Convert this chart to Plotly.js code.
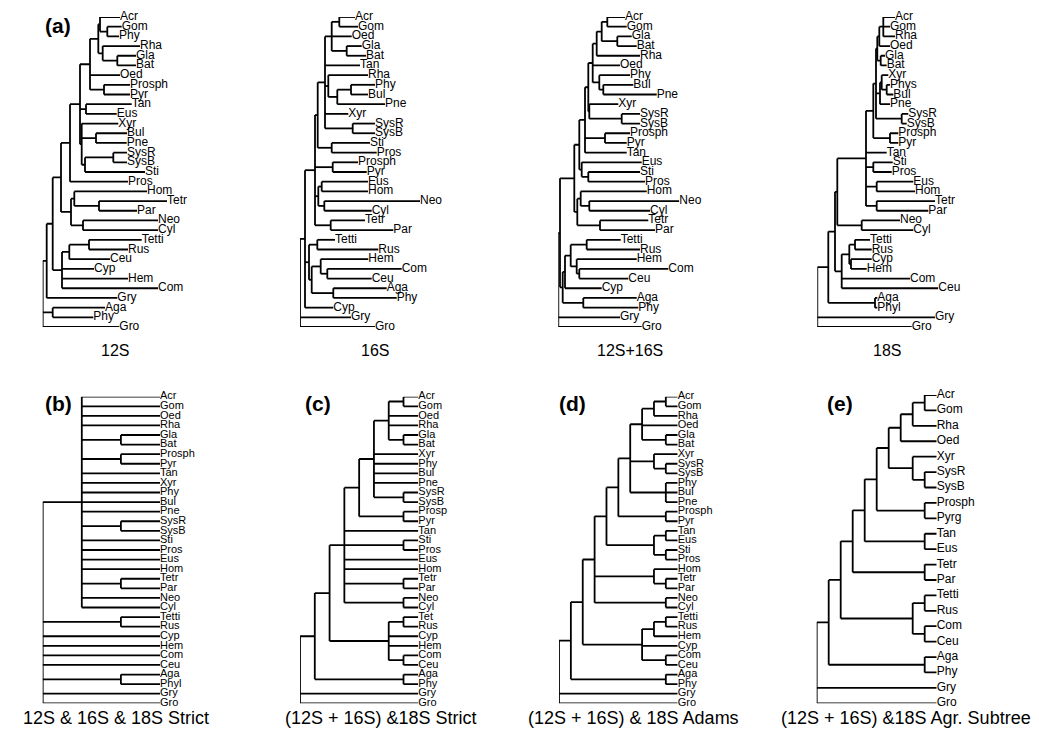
<!DOCTYPE html>
<html><head><meta charset="utf-8">
<script src="https://cdn.plot.ly/plotly-3.0.1.min.js"></script>
<style>html,body{margin:0;padding:0;background:#fff}#chart{width:1039px;height:735px}</style>
</head><body><div id="chart"></div>
<script>
// ---- DATA: trees in Newick (branch lengths for phylograms) ----
const tree12S = "(((((((((Acr:20,(Gom:14.4,Phy:11.7):7.3):1.7,(Rha:37.3,(Gla:18.7,Bat:18.7):14.6):4.4):8.3,Oed:30,(Prosph:26,Pyr:26):14):10,(Tan:45.7,Eus:30.7):6,(Xyr:36.6,(Bul:31,Pne:30.7):14.3,((SysR:13.7,SysB:13.7):28.3,Sti:60):3.3):1.7):10,Pros:58):9,((Hom:72.7,(Tetr:68,Par:38):24.7):3.3,(Neo:75,Cyl:75):12):10):8.3,(((Tetti:52.7,Rus:39):19.7,Ceu:40.7):7.3,Cyp:32,Hem:66,Com:96):9.3):6,Gry:70.6):4,(Aga:52.3,Phy:40.6):10,Gro:76.6);";
const tree16S = "(((((((Acr:15.7,Gom:18.7):7.6,Oed:20,(Gla:15,Bat:19.3):15):6.7,Tan:35,(Rha:39.7,((Phy:24,Bul:17):13.7,Pne:47.7):9):3.3,Xyr:23.3,(SysR:22.3,SysB:22.3):27.7):7.3,(Sti:38.3,Pros:45):14):2.7,(Prosph:25.3,Pyr:34):17.7,((Eus:46.3,Hom:46.3):3.4,(Neo:95.7,Cyl:47.4):6):3.3,(Tetr:34.3,Par:62.6):15.7):10,((Tetti:17.7,Rus:61):8.3,((Hem:47.6,(Com:74.4,Ceu:44.4):6.6):9,(Aga:53.4,Phy:63.4):21.6):2.7):4,Cyp:28.3):5,Gry:51,Gro:75);";
const tree12S16S = "((((((((((Acr:17.7,Gom:19.4):5.6,(Gla:14.4,Bat:19.4):15.6):5,Rha:43.3):4,Oed:27.3,(Phy:30.7,(Bul:30,Pne:53.4):4):6.6):4.4,(Xyr:29,(SysR:18.3,SysB:18.3):32.4):1):3.3,(Prosph:25,Pyr:21.7):20,Tan:41.7):5.7,(Eus:60,(Sti:51.7,Pros:56.7):6.6):2.4):5,((Hom:66,(Neo:90,Cyl:60.7):8.6):3.4,(Tetr:48.3,Par:55):22.7):3):14.3,((((Tetti:34,Rus:53.3):16,(Hem:60,(Com:89,Ceu:49):2.6):6):5.7,Cyp:36.7):2.3,(Aga:53.4,Phy:55):20.6):2.7):1.7,Gry:61.7,Gro:83.4);";
const tree18S = "((((((((((Acr:11.7,Gom:6.7,Rha:11.7):4,Oed:10.7):2,(Gla:4.3,Bat:6):3.4):1.3,((Xyr:6.6,(Phys:3.3,Bul:6.6):5):1.7,Pne:10):4,(SysR:6.6,SysB:5):25.7):2.7,(Prosph:8.3,Pyr:8.3):16.7):7.3,Tan:20.7,(Sti:19.4,Pros:18.4):7.3,(Eus:36.6,Hom:38.3):10.7,(Tetr:58.3,Par:51.6):10.7):28.7,(Neo:38.3,Cyl:51.6):24.4):2.3,(((Tetti:15,Rus:16.7):5.7,(Cyp:20.7,Hem:15.7):1.7):7.6,Com:68.3,Ceu:96.6):6.7):6.7,(Aga:2.3,Phyl:2.3):46.7):11,Gry:117.7,Gro:94.4);";
const treeStrictAll = "((Acr,Gom,Oed,Rha,(Gla,Bat),(Prosph,Pyr),Tan,Xyr,Phy,Bul,Pne,(SysR,SysB),Sti,Pros,Eus,Hom,(Tetr,Par),Neo,Cyl),(Tetti,Rus),Cyp,Hem,Com,Ceu,(Aga,Phyl),Gry,Gro);";
const treeStrict = "((((((((Acr,Gom),Oed,Rha,(Gla,Bat)),Xyr,Phy,Bul,Pne,(SysR,SysB)),(Prosp,Pyr)),Tan,(Sti,Pros),Eus,Hom,(Tetr,Par),(Neo,Cyl)),((Tet,Rus),Cyp,Hem,(Com,Ceu))),(Aga,Phy)),Gry,Gro);";
const treeAdams = "((((((((((Acr,Gom),Rha),Oed,(Gla,Bat)),(Xyr,(SysR,SysB)),(Phy,Bul,Pne)),(Prosph,Pyr)),((Tan,Eus),(Sti,Pros))),(Hom,(Tetr,Par)),(Neo,Cyl)),(((Tetti,Rus),Hem),Cyp,(Com,Ceu))),(Aga,Phy)),Gry,Gro);";
const treeAgrSubtree = "((((((((((Acr,Gom),Rha),Oed),(Xyr,(SysR,SysB))),(Prosph,Pyrg)),(Tan,Eus)),(Tetr,Par)),((Tetti,Rus),(Com,Ceu))),(Aga,Phy)),Gry,Gro);";

const topTitles = ["12S", "16S", "12S+16S", "18S"];
const bottomTitles = ["12S & 16S & 18S Strict", "(12S + 16S) &18S Strict", "(12S + 16S) & 18S Adams", "(12S + 16S) &18S Agr. Subtree"];
const panelLetters = ["(a)", "(b)", "(c)", "(d)", "(e)"];

// ---- layout configuration (pixel placement of each panel) ----
const W = 1039, H = 735;
const FONT = "Liberation Sans, Arial, Helvetica, sans-serif";
const panels = [
  {tree: tree12S,        mode: "phylo", root: 42.7,  top: 17,    bottom: 327,   fs: 12},
  {tree: tree16S,        mode: "phylo", root: 300,   top: 17,    bottom: 327,   fs: 12},
  {tree: tree12S16S,     mode: "phylo", root: 558.3, top: 17,    bottom: 327,   fs: 12},
  {tree: tree18S,        mode: "phylo", root: 817.3, top: 17,    bottom: 327,   fs: 12},
  {tree: treeStrictAll,  mode: "clado", root: 42.7,  leaf: 160,   top: 396.7, bottom: 703.3, fs: 11},
  {tree: treeStrict,     mode: "clado", root: 300,   leaf: 418.3, top: 396.7, bottom: 703.3, fs: 11},
  {tree: treeAdams,      mode: "clado", root: 559,   leaf: 677.7, top: 396.7, bottom: 703.3, fs: 11},
  {tree: treeAgrSubtree, mode: "clado", root: 816.7, leaf: 936.7, top: 395,   bottom: 703.3, fs: 12}
];

function parseNewick(s) {
  let i = 0;
  function node() {
    const n = {children: [], name: "", len: 0};
    if (s[i] === "(") {
      i++;
      n.children.push(node());
      while (s[i] === ",") { i++; n.children.push(node()); }
      i++; // ')'
    }
    let name = "";
    while (i < s.length && !",():;".includes(s[i])) name += s[i++];
    n.name = name.trim();
    if (s[i] === ":") {
      i++;
      let num = "";
      while (i < s.length && !",();".includes(s[i])) num += s[i++];
      n.len = parseFloat(num);
    }
    return n;
  }
  return node();
}

function layoutTree(root, mode) {
  const leaves = [];
  function height(n) {
    n.h = n.children.length ? 1 + Math.max(...n.children.map(height)) : 0;
    return n.h;
  }
  height(root);
  function assign(n, depth) {
    n.x = mode === "phylo" ? depth : root.h - n.h;
    if (!n.children.length) { n.y = leaves.length; leaves.push(n); }
    else {
      n.children.forEach(c => assign(c, depth + (c.len || 0)));
      n.y = (n.children[0].y + n.children[n.children.length - 1].y) / 2;
    }
  }
  assign(root, 0);
  const sx = [], sy = [];
  (function walk(n) {
    if (!n.children.length) return;
    const f = n.children[0], l = n.children[n.children.length - 1];
    sx.push(n.x, n.x, null); sy.push(f.y, l.y, null);
    n.children.forEach(c => { sx.push(n.x, c.x, null); sy.push(c.y, c.y, null); walk(c); });
  })(root);
  const maxX = Math.max(...leaves.map(l => l.x));
  return {leaves, sx, sy, maxX};
}

const data = [];
const layout = {
  width: W, height: H, margin: {l: 0, r: 0, t: 0, b: 0},
  paper_bgcolor: "#fff", plot_bgcolor: "rgba(0,0,0,0)", showlegend: false,
  annotations: []
};

panels.forEach((p, k) => {
  const t = layoutTree(parseNewick(p.tree), p.mode);
  const ax = k === 0 ? "" : String(k + 1);
  const right = p.mode === "phylo" ? p.root + t.maxX : p.leaf;
  layout["xaxis" + ax] = {domain: [p.root / W, right / W], range: [0, t.maxX], visible: false, fixedrange: true, anchor: "y" + ax};
  layout["yaxis" + ax] = {domain: [1 - p.bottom / H, 1 - p.top / H], range: [t.leaves.length - 1, 0], visible: false, fixedrange: true, anchor: "x" + ax};
  data.push({type: "scatter", mode: "lines", x: t.sx, y: t.sy, xaxis: "x" + ax, yaxis: "y" + ax,
    line: {color: "#000", width: 1.8}, cliponaxis: false, hoverinfo: "skip"});
  data.push({type: "scatter", mode: "text", x: t.leaves.map(l => l.x), y: t.leaves.map(l => l.y),
    text: t.leaves.map(l => l.name), textposition: "middle right", xaxis: "x" + ax, yaxis: "y" + ax,
    textfont: {family: FONT, size: p.fs, color: "#000"}, cliponaxis: false, hoverinfo: "skip"});
});

const topX = [115, 375, 630, 887];
const botX = [116, 381, 633, 906];
topTitles.forEach((s, i) => layout.annotations.push({text: s, xref: "paper", yref: "paper", x: topX[i] / W, y: 1 - 350 / H,
  xanchor: "center", yanchor: "middle", showarrow: false, font: {family: FONT, size: 16, color: "#000"}}));
bottomTitles.forEach((s, i) => layout.annotations.push({text: s, xref: "paper", yref: "paper", x: botX[i] / W, y: 1 - 718 / H,
  xanchor: "center", yanchor: "middle", showarrow: false, font: {family: FONT, size: 18, color: "#000"}}));
const letX = [58, 58, 318, 572, 840];
const letY = [25, 403, 403, 403, 403];
panelLetters.forEach((s, i) => layout.annotations.push({text: "<b>" + s + "</b>", xref: "paper", yref: "paper", x: letX[i] / W, y: 1 - letY[i] / H,
  xanchor: "center", yanchor: "middle", showarrow: false, font: {family: FONT, size: 21, color: "#000"}}));

Plotly.newPlot("chart", data, layout, {displayModeBar: false, staticPlot: true});
</script></body></html>
